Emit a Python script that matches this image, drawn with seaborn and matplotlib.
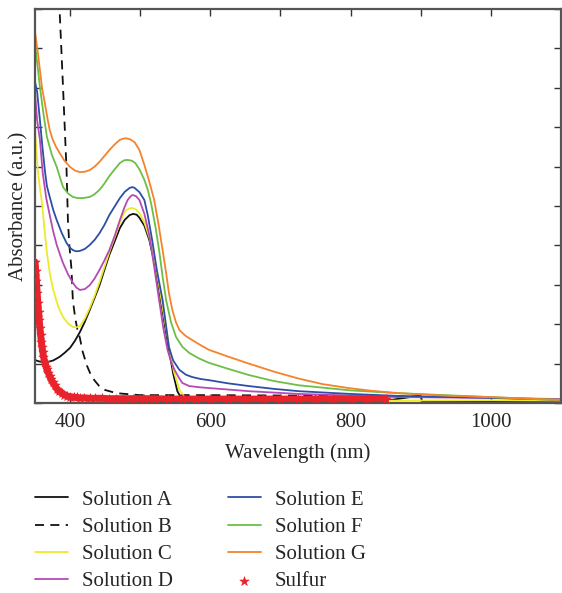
import matplotlib
matplotlib.use("Agg")
import matplotlib.pyplot as plt
import seaborn as sns
import numpy as np

sns.set_style("ticks")
plt.rcParams["font.family"] = ["Liberation Serif", "DejaVu Serif"]

# ---- data (wavelength in nm, absorbance in a.u.) ----
a_nm = [350, 355, 360, 368, 376, 385, 392, 400, 407, 414, 421, 428, 435, 442, 449,
        456, 464, 471, 478, 485, 490, 495, 499, 506, 513, 520, 527, 534, 541, 547,
        553, 558, 563, 600, 700, 800, 850, 870, 885, 900, 902, 1000, 1100]
a_abs = [0.109, 0.106, 0.104, 0.104, 0.108, 0.117, 0.127, 0.140, 0.158, 0.180, 0.206,
         0.236, 0.267, 0.299, 0.338, 0.376, 0.412, 0.444, 0.465, 0.477, 0.480, 0.478,
         0.470, 0.450, 0.414, 0.358, 0.287, 0.210, 0.135, 0.075, 0.030, 0.014, 0.008,
         0.005, 0.004, 0.004, 0.006, 0.011, 0.015, 0.019, 0.004, 0.004, 0.003]

b_nm = [375, 385, 390, 395, 397, 399, 402, 404, 407, 410, 414, 418, 424, 430, 435,
        442, 450, 466, 499, 600, 700, 800, 850, 900]
b_abs = [1.45, 1.0, 0.80, 0.59, 0.46, 0.40, 0.34, 0.26, 0.22, 0.19, 0.165, 0.13, 0.095,
         0.070, 0.057, 0.042, 0.033, 0.025, 0.020, 0.020, 0.019, 0.018, 0.017, 0.016]

c_nm = [350, 352, 354, 357, 360, 363, 367, 371, 376, 383, 390, 397, 404, 409, 414,
        421, 428, 435, 442, 449, 456, 464, 471, 476, 480, 485, 489, 494, 499, 506,
        513, 520, 527, 534, 541, 548, 556, 564, 584, 700, 850, 1000, 1100]
c_abs = [0.693, 0.640, 0.591, 0.545, 0.508, 0.450, 0.381, 0.330, 0.287, 0.245, 0.218,
         0.202, 0.193, 0.192, 0.195, 0.214, 0.241, 0.272, 0.307, 0.345, 0.383, 0.422,
         0.457, 0.478, 0.490, 0.494, 0.495, 0.491, 0.482, 0.458, 0.421, 0.368, 0.299,
         0.222, 0.147, 0.080, 0.033, 0.013, 0.008, 0.006, 0.006, 0.007, 0.006]

d_nm = [350, 353, 357, 361, 366, 371, 376, 381, 386, 390, 397, 404, 409, 414, 421,
        428, 435, 442, 449, 456, 464, 471, 477, 482, 486, 489, 494, 499, 506, 513,
        520, 527, 533, 539, 544, 549, 555, 560, 570, 584, 598, 655, 726, 800, 868,
        999, 1100]
d_abs = [0.787, 0.718, 0.668, 0.584, 0.520, 0.477, 0.435, 0.401, 0.375, 0.355, 0.327,
         0.305, 0.293, 0.287, 0.289, 0.299, 0.316, 0.338, 0.362, 0.388, 0.426, 0.464,
         0.494, 0.515, 0.524, 0.528, 0.525, 0.515, 0.480, 0.426, 0.345, 0.261, 0.190,
         0.135, 0.105, 0.084, 0.065, 0.051, 0.043, 0.040, 0.038, 0.030, 0.023, 0.019,
         0.015, 0.013, 0.010]

e_nm = [350, 353, 357, 360, 364, 367, 371, 376, 381, 388, 395, 400, 404, 409, 414,
        421, 428, 435, 442, 449, 456, 464, 471, 478, 485, 489, 492, 499, 506, 511,
        517, 524, 532, 537, 541, 547, 556, 565, 574, 586, 598, 625, 655, 690, 726,
        800, 868, 999, 1100]
e_abs = [0.815, 0.790, 0.718, 0.660, 0.591, 0.550, 0.523, 0.490, 0.464, 0.432, 0.406,
         0.394, 0.388, 0.385, 0.386, 0.391, 0.401, 0.414, 0.431, 0.452, 0.477, 0.500,
         0.520, 0.536, 0.546, 0.548, 0.546, 0.535, 0.515, 0.475, 0.414, 0.335, 0.261,
         0.195, 0.142, 0.108, 0.084, 0.072, 0.066, 0.061, 0.058, 0.050, 0.043, 0.036,
         0.030, 0.023, 0.018, 0.013, 0.008]

f_nm = [350, 354, 357, 362, 367, 374, 381, 386, 390, 397, 404, 411, 418, 428, 435,
        442, 449, 456, 464, 471, 477, 482, 488, 493, 499, 506, 511, 516, 522, 527,
        532, 537, 544, 551, 560, 570, 584, 598, 625, 655, 690, 726, 800, 868, 999,
        1100]
f_abs = [0.909, 0.850, 0.802, 0.735, 0.675, 0.630, 0.599, 0.570, 0.548, 0.532, 0.523,
         0.520, 0.520, 0.523, 0.530, 0.541, 0.557, 0.576, 0.594, 0.609, 0.616, 0.617,
         0.615, 0.609, 0.593, 0.566, 0.540, 0.503, 0.445, 0.388, 0.320, 0.261, 0.205,
         0.168, 0.143, 0.127, 0.113, 0.102, 0.087, 0.071, 0.056, 0.045, 0.032, 0.025,
         0.015, 0.008]

g_nm = [350, 354, 357, 360, 364, 368, 371, 375, 380, 385, 392, 400, 407, 414, 421,
        428, 435, 442, 449, 456, 464, 471, 476, 480, 486, 492, 499, 506, 513, 520,
        526, 532, 537, 541, 546, 551, 556, 565, 574, 586, 598, 625, 655, 690, 726,
        760, 797, 830, 868, 930, 999, 1050, 1100]
g_abs = [0.942, 0.890, 0.845, 0.800, 0.761, 0.720, 0.693, 0.670, 0.650, 0.635, 0.615,
         0.599, 0.590, 0.586, 0.587, 0.591, 0.600, 0.612, 0.627, 0.642, 0.657, 0.668,
         0.671, 0.672, 0.669, 0.662, 0.642, 0.604, 0.562, 0.515, 0.455, 0.388, 0.330,
         0.279, 0.235, 0.205, 0.185, 0.170, 0.160, 0.147, 0.135, 0.118, 0.100, 0.080,
         0.062, 0.048, 0.038, 0.031, 0.025, 0.019, 0.015, 0.011, 0.008]

s_nm = [350, 351, 352, 353, 354, 355, 356, 357, 358, 359, 360, 361, 362, 364, 366,
        367, 369, 371, 373, 375, 378, 381, 384, 388, 392, 395, 400, 405, 410, 414,
        420, 428, 436, 445, 455, 465, 475, 490, 505, 520, 540, 560, 580, 600, 625,
        650, 675, 700, 725, 750, 775, 800, 825, 850]
s_abs = [0.358, 0.335, 0.31, 0.28, 0.255, 0.232, 0.21, 0.19, 0.172, 0.156, 0.142, 0.13,
         0.118, 0.104, 0.092, 0.086, 0.077, 0.068, 0.060, 0.053, 0.045, 0.036, 0.030,
         0.025, 0.021, 0.018, 0.016, 0.015, 0.014, 0.013, 0.013, 0.012, 0.012, 0.012,
         0.011, 0.011, 0.011, 0.011, 0.011, 0.011, 0.010, 0.010, 0.010, 0.010, 0.010,
         0.010, 0.010, 0.010, 0.010, 0.010, 0.010, 0.010, 0.010, 0.010]

series = [
    ("Solution A", a_nm, a_abs, "#111111", "-"),
    ("Solution B", b_nm, b_abs, "#111111", (0, (5, 3.5))),
    ("Solution C", c_nm, c_abs, "#eeea2a", "-"),
    ("Solution D", d_nm, d_abs, "#b64ab4", "-"),
    ("Solution E", e_nm, e_abs, "#2e4fa6", "-"),
    ("Solution F", f_nm, f_abs, "#6cbf45", "-"),
    ("Solution G", g_nm, g_abs, "#f5832c", "-"),
]
sulfur_color = "#e8232b"
FS = 15

fig = plt.figure(figsize=(5.62, 5.93), dpi=100)
ax = fig.add_axes([0.0623, 0.3204, 0.9357, 0.6644])

for name, xs, ys, col, ls in series:
    sns.lineplot(x=xs, y=ys, ax=ax, color=col, linestyle=ls, linewidth=1.3,
                 label=name, sort=False)

# sulfur: dense star markers forming a band
sns.lineplot(x=s_nm, y=s_abs, ax=ax, color=sulfur_color, linewidth=5,
             legend=False, sort=False)
sns.scatterplot(x=s_nm, y=s_abs, ax=ax, marker="*", s=50, color=sulfur_color,
                edgecolor=sulfur_color, linewidth=0.4, label="Sulfur", zorder=5)

ax.set_xlim(350, 1100)
ax.set_ylim(0, 1.0)
ax.set_xticks(np.arange(400, 1101, 100))
ax.set_xticklabels(["400", "", "600", "", "800", "", "1000", ""], fontsize=FS)
ax.set_yticks(np.arange(0, 1.01, 0.1))
ax.set_yticklabels([])
ax.tick_params(direction="in", length=5, width=1.0, top=True, right=True,
               color="#333333", pad=7)
for sp in ax.spines.values():
    sp.set_color("#555555")
    sp.set_linewidth(1.6)
ax.set_xlabel("Wavelength (nm)", fontsize=FS, labelpad=8)
ax.set_ylabel("Absorbance (a.u.)", fontsize=FS)
ax.yaxis.set_label_coords(-0.012, 0.5)

handles, labels = ax.get_legend_handles_labels()
ax.get_legend().remove()
fig.legend(handles, labels, loc="upper left", bbox_to_anchor=(0.029, 0.205),
           ncol=2, frameon=False, fontsize=FS, handlelength=1.6,
           handletextpad=0.67, columnspacing=2.6, labelspacing=0.36,
           numpoints=1, scatterpoints=1)

fig.savefig("out.png", dpi=100)
